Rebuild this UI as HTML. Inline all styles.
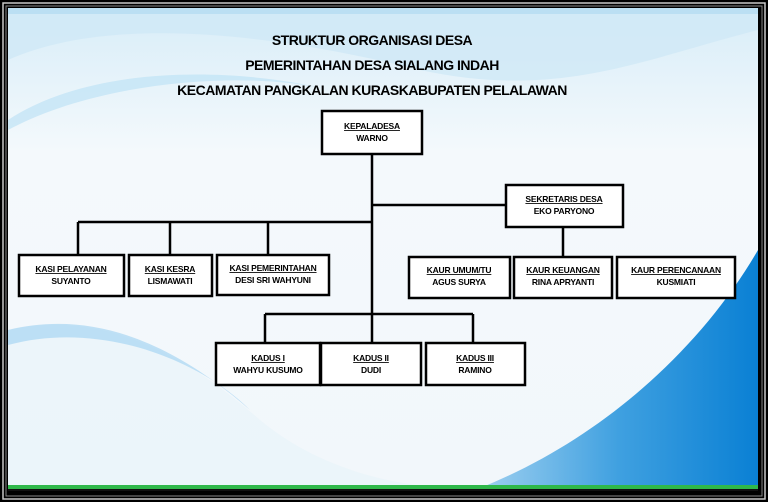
<!DOCTYPE html>
<html><head><meta charset="utf-8"><style>
body{margin:0;width:768px;height:502px;overflow:hidden;background:#000;font-family:"Liberation Sans",sans-serif}
svg{display:block}
.t{font-family:"Liberation Sans",sans-serif;font-weight:bold;fill:#000;text-anchor:middle}
</style></head><body>
<svg width="768" height="502" viewBox="0 0 768 502">
<defs>
<linearGradient id="bg" x1="0" y1="0" x2="0" y2="1">
<stop offset="0" stop-color="#d8edf8"/><stop offset="0.3" stop-color="#f4f9fc"/><stop offset="1" stop-color="#f2f7fb"/>
</linearGradient>
<linearGradient id="bl" x1="0" y1="0" x2="1" y2="0">
<stop offset="0" stop-color="#9fd0f0"/><stop offset="0.5" stop-color="#3fa0e0"/><stop offset="1" stop-color="#0a80d4"/>
</linearGradient>
</defs>
<rect x="0" y="0" width="768" height="502" fill="#000"/>
<rect x="3" y="3" width="762" height="496" fill="none" stroke="#c8c8c8" stroke-width="1.5"/>
<rect x="6" y="6" width="756" height="490" fill="none" stroke="#888" stroke-width="1"/>
<rect x="8" y="8" width="750" height="480" fill="url(#bg)"/>
<rect x="8" y="8" width="750" height="6" fill="#6ab8e6"/>
<path d="M8,60 C120,10 300,40 420,70 C560,100 640,60 758,30 L758,8 L8,8 Z" fill="#cfe8f6" opacity="0.8"/>
<path d="M8,120 C100,60 250,70 330,90 C250,70 100,80 8,130Z" fill="#bfe2f5" opacity="0.7"/>
<path d="M8,330 C100,310 180,350 260,420 C320,470 400,488 460,488 L8,488Z" fill="#e8f3fa" opacity="0.7"/>
<path d="M8,330 C90,310 170,340 250,410 C200,360 100,320 8,345Z" fill="#a8d6f2" opacity="0.7"/>
<path d="M480,488 C600,440 700,350 758,250 L758,488Z" fill="url(#bl)"/>
<rect x="8" y="485" width="750" height="4" fill="#2fb84a"/>
<rect x="8" y="489" width="750" height="2" fill="#111"/>
<g stroke="#000" stroke-width="2.5" fill="none">
<line x1="372" y1="154" x2="372" y2="343"/>
<line x1="372" y1="205" x2="506" y2="205"/>
<line x1="78" y1="222" x2="372" y2="222"/>
<line x1="78" y1="222" x2="78" y2="255"/>
<line x1="170" y1="222" x2="170" y2="255"/>
<line x1="268" y1="222" x2="268" y2="255"/>
<line x1="563" y1="227" x2="563" y2="257"/>
<line x1="265" y1="314" x2="473" y2="314"/>
<line x1="265" y1="314" x2="265" y2="343"/>
<line x1="473" y1="314" x2="473" y2="343"/>
</g>
<g fill="#fff" stroke="#000" stroke-width="2.5">
<rect x="322" y="111" width="100" height="43"/>
<rect x="506" y="185" width="117" height="42"/>
<rect x="19" y="255" width="105" height="41"/>
<rect x="129" y="255" width="83" height="41"/>
<rect x="217" y="255" width="112" height="40"/>
<rect x="409" y="257" width="101" height="41"/>
<rect x="514" y="257" width="98" height="41"/>
<rect x="617" y="257" width="118" height="41"/>
<rect x="216" y="343" width="104" height="42"/>
<rect x="321" y="343" width="100" height="42"/>
<rect x="426" y="343" width="99" height="42"/>
</g>
<g class="t" font-size="14" letter-spacing="-0.5">
<text x="372" y="45" class="t">STRUKTUR ORGANISASI DESA</text>
<text x="372" y="70" class="t">PEMERINTAHAN DESA SIALANG INDAH</text>
<text x="372" y="95" class="t">KECAMATAN PANGKALAN KURASKABUPATEN PELALAWAN</text>
</g>
<g font-size="8.5" letter-spacing="-0.2">
<text class="t" x="372" y="129" text-decoration="underline">KEPALADESA</text><text class="t" x="372" y="141">WARNO</text>
<text class="t" x="564" y="202" text-decoration="underline">SEKRETARIS DESA</text><text class="t" x="564" y="214">EKO PARYONO</text>
<text class="t" x="71" y="272" text-decoration="underline">KASI PELAYANAN</text><text class="t" x="71" y="284">SUYANTO</text>
<text class="t" x="170" y="272" text-decoration="underline">KASI KESRA</text><text class="t" x="170" y="284">LISMAWATI</text>
<text class="t" x="273" y="271" text-decoration="underline">KASI PEMERINTAHAN</text><text class="t" x="273" y="283">DESI SRI WAHYUNI</text>
<text class="t" x="459" y="273" text-decoration="underline">KAUR UMUM/TU</text><text class="t" x="459" y="285">AGUS SURYA</text>
<text class="t" x="563" y="273" text-decoration="underline">KAUR KEUANGAN</text><text class="t" x="563" y="285">RINA APRYANTI</text>
<text class="t" x="676" y="273" text-decoration="underline">KAUR PERENCANAAN</text><text class="t" x="676" y="285">KUSMIATI</text>
<text class="t" x="268" y="361" text-decoration="underline">KADUS I</text><text class="t" x="268" y="373">WAHYU KUSUMO</text>
<text class="t" x="371" y="361" text-decoration="underline">KADUS II</text><text class="t" x="371" y="373">DUDI</text>
<text class="t" x="475" y="361" text-decoration="underline">KADUS III</text><text class="t" x="475" y="373">RAMINO</text>
</g>
</svg>
</body></html>
